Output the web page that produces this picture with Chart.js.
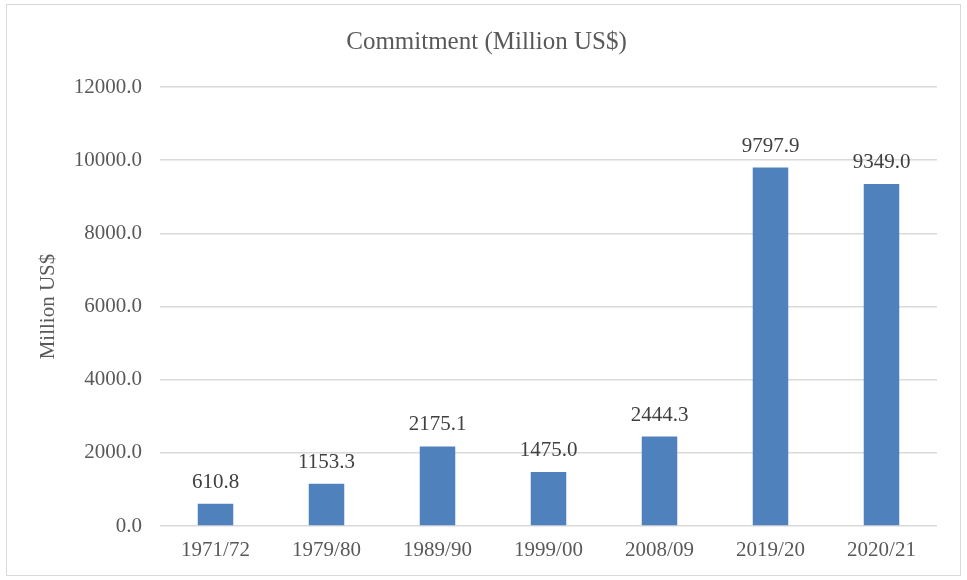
<!DOCTYPE html>
<html>
<head>
<meta charset="utf-8">
<script src="https://cdn.jsdelivr.net/npm/chart.js@4/dist/chart.umd.min.js"></script>
<style>
  html, body { margin: 0; padding: 0; background: #fff; }
  #wrap { position: absolute; left: 0; top: 0; width: 967px; height: 580px; }
</style>
</head>
<body>
<div id="wrap"><canvas id="chart" width="967" height="580"></canvas></div>
<script>
const categories = ["1971/72", "1979/80", "1989/90", "1999/00", "2008/09", "2019/20", "2020/21"];
const commitment = [610.8, 1153.3, 2175.1, 1475.0, 2444.3, 9797.9, 9349.0];
const yTicks = [0, 2000, 4000, 6000, 8000, 10000, 12000];

const serif = "'Liberation Serif', 'Times New Roman', serif";

// outer frame, like the office chart area border
const framePlugin = {
  id: 'frame',
  beforeDraw(chart) {
    const ctx = chart.ctx
    ctx.save()
    ctx.fillStyle = '#fff'
    ctx.fillRect(0, 0, chart.width, chart.height)
    ctx.strokeStyle = '#d9d9d9'
    ctx.lineWidth = 1
    ctx.strokeRect(6.5, 4.5, 954, 571)
    ctx.restore()
  }
}

// value labels above each bar
const valueLabels = {
  id: 'valueLabels',
  afterDatasetsDraw(chart) {
    const ctx = chart.ctx
    const meta = chart.getDatasetMeta(0)
    ctx.save()
    ctx.font = '21px ' + serif
    ctx.fillStyle = '#404040'
    ctx.textAlign = 'center'
    ctx.textBaseline = 'alphabetic'
    meta.data.forEach((bar, i) => {
      ctx.fillText(commitment[i].toFixed(1), bar.x, bar.y - 16)
    })
    ctx.restore()
  }
}

new Chart(document.getElementById('chart'), {
  type: 'bar',
  data: {
    labels: categories,
    datasets: [{
      label: 'Commitment',
      data: commitment,
      backgroundColor: '#4f81bd',
      categoryPercentage: 1,
      barPercentage: 0.32
    }]
  },
  options: {
    responsive: false,
    animation: false,
    layout: { padding: { left: 36, right: 30, top: 0, bottom: 0 } },
    plugins: {
      legend: { display: false },
      tooltip: { enabled: false },
      title: {
        display: true,
        text: 'Commitment (Million US$)',
        color: '#595959',
        font: { family: serif, size: 25, weight: 'normal' },
        padding: { top: 27, bottom: 30 }
      }
    },
    scales: {
      x: {
        grid: { display: false, drawTicks: false },
        border: { display: false },
        afterFit(axis) { axis.height = 54 },
        ticks: { color: '#595959', font: { family: serif, size: 21 }, padding: 12 }
      },
      y: {
        min: 0,
        max: 12000,
        afterBuildTicks(axis) { axis.ticks = yTicks.map(v => ({ value: v })) },
        afterFit(axis) { axis.width = 124 },
        grid: { color: '#d9d9d9', lineWidth: 1.5, drawTicks: false },
        border: { display: false },
        ticks: {
          color: '#595959',
          font: { family: serif, size: 21 },
          padding: 18,
          callback: v => v.toFixed(1)
        },
        title: {
          display: true,
          text: 'Million US$',
          color: '#595959',
          font: { family: serif, size: 21 },
          padding: 0
        }
      }
    }
  },
  plugins: [framePlugin, valueLabels]
})
</script>
</body>
</html>
